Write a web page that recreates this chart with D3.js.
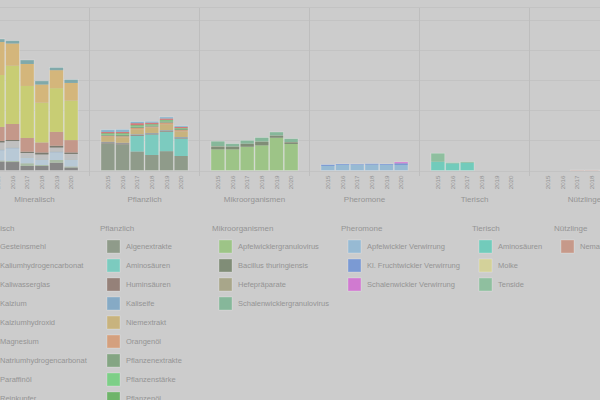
<!DOCTYPE html>
<html>
<head>
<meta charset="utf-8">
<script src="https://cdn.jsdelivr.net/npm/d3@7"></script>
<style>
  html, body { margin: 0; padding: 0; background: #cccccc; overflow: hidden; }
  svg { display: block; font-family: "Liberation Sans", Arial, sans-serif; }
</style>
</head>
<body>
<svg id="chart" width="600" height="400"></svg>
<script>
// ---------- DATA ----------
const years = ["2015", "2016", "2017", "2018", "2019", "2020"];
const groups = ["Mineralisch", "Pflanzlich", "Mikroorganismen", "Pheromone", "Tierisch", "Nützlinge"];
const yTicks = [0, 50, 100, 150, 200, 250];

const mineralKeys = ["Gesteinsmehl", "Kaliumhydrogencarbonat", "Kaliwasserglas", "Kalzium", "Kalziumhydroxid",
  "Magnesium", "Natriumhydrogencarbonat", "Paraffinöl", "Reinkupfer", "Schwefel", "Schwefelkalk", "Tonerde"];
const mineralValues = [ // one row per year
  [14.9, 1.7, 16.6, 0.8, 0.8, 0.8, 10.8, 2.5, 23.2, 86.0, 54.6, 5.0],
  [14.0, 1.7, 20.7, 0.8, 0.8, 0.8, 10.0, 1.7, 26.5, 96.5, 36.8, 4.6],
  [7.5, 4.5, 8.8, 0.8, 0.8, 0.8, 5.8, 2.2, 22.7, 86.1, 36.4, 6.6],
  [7.5, 1.7, 8.3, 0.8, 0.8, 0.8, 6.6, 3.3, 16.6, 65.9, 30.1, 6.0],
  [12.9, 4.5, 12.4, 0.8, 0.8, 0.8, 5.8, 3.0, 22.9, 72.4, 29.8, 4.5],
  [5.0, 1.7, 10.8, 0.8, 0.8, 0.8, 7.5, 2.5, 20.4, 65.4, 29.3, 5.5]
];

const plantKeys = ["Algenextrakte", "Aminosäuren", "Huminsäuren", "Kaliseife", "Niemextrakt", "Orangenöl",
  "Pflanzenextrakte", "Pflanzenstärke", "Pflanzenöl", "Quassia", "Rapsöl"];
const plantValues = [
  [45.0, 0, 1.7, 0.8, 8.3, 1.7, 1.7, 1.2, 1.3, 2.0, 3.8],
  [43.4, 0, 1.7, 0.8, 9.1, 1.7, 2.5, 1.2, 1.3, 2.2, 4.1],
  [31.5, 26.0, 1.7, 0.8, 8.3, 2.2, 2.2, 1.2, 1.2, 3.3, 2.5],
  [25.7, 34.0, 1.7, 0.8, 8.8, 1.7, 2.0, 1.0, 1.0, 2.5, 2.2],
  [32.0, 32.3, 1.7, 0.8, 9.9, 2.5, 2.2, 1.2, 1.2, 2.3, 2.5],
  [24.0, 29.0, 1.7, 0.8, 9.4, 2.0, 1.7, 0.8, 0.8, 2.0, 1.7]
];

const microKeys = ["Apfelwicklergranulovirus", "Bacillus thuringiensis", "Hefepräparate", "Schalenwicklergranulovirus"];
const microValues = [
  [35.1, 4.3, 0.8, 8.3],
  [35.1, 4.3, 0.5, 4.5],
  [39.4, 4.5, 0.5, 5.5],
  [41.7, 5.5, 0.8, 6.6],
  [54.3, 3.3, 0.5, 5.6],
  [43.9, 2.8, 0.5, 5.5]
];

const pheroKeys = ["Apfelwickler Verwirrung", "Kl. Fruchtwickler Verwirrung", "Schalenwickler Verwirrung"];
const pheroValues = [
  [7.5, 2.2, 0],
  [9.1, 1.7, 0],
  [9.6, 1.2, 0],
  [9.6, 1.7, 0],
  [9.1, 1.7, 0],
  [9.1, 2.8, 2.2]
];

const animalKeys = ["Aminosäuren", "Molke", "Tenside"];
const animalValues = [
  [14.6, 0, 14.0],
  [11.9, 0, 1.3],
  [12.9, 0, 1.7],
  [0, 0, 0],
  [0, 0, 0],
  [0, 0, 0]
];

const beneficialKeys = ["Nematoden"];
const beneficialValues = [[0], [0], [0.6], [0.6], [0.6], [0.6]];

// ---------- STYLES ----------
const mineralColors = ["#878787", "#a9bca6", "#b8c9d6", "#9fb5d0", "#c7c3b0", "#a9b7c0", "#c0c0c0",
  "#7b7b70", "#c4988a", "#c8cd74", "#d4b67b", "#80a9aa"];
const plantColors = ["#8f9b8a", "#7ccbbf", "#958179", "#86aac5", "#c8b37e", "#d4a07e", "#84a583",
  "#7dcf87", "#6fb46a", "#d27a7a", "#8ab4cc"];
const microColors = ["#9dc487", "#808d77", "#a8a68a", "#86b79a"];
const pheroColors = ["#97bad3", "#7b9ad3", "#d07ad0"];
const animalColors = ["#72cbbb", "#d3d19a", "#8fbf9f"];
const beneficialColors = ["#c6998a"];

const groupDefs = [
  { keys: mineralKeys, values: mineralValues, colors: mineralColors },
  { keys: plantKeys, values: plantValues, colors: plantColors },
  { keys: microKeys, values: microValues, colors: microColors },
  { keys: pheroKeys, values: pheroValues, colors: pheroColors },
  { keys: animalKeys, values: animalValues, colors: animalColors },
  { keys: beneficialKeys, values: beneficialValues, colors: beneficialColors }
];

// ---------- LAYOUT ----------
const svg = d3.select("#chart");
const textColor = "#949494";
const baseY = 170.5, topY = 19.5;
const groupW = 110, groupStart = -20.5, innerPad = 11.5;

svg.append("rect").attr("width", 600).attr("height", 400).attr("fill", "#cccccc");

const y = d3.scaleLinear().domain([0, 250]).range([baseY, topY]);
const gx = d3.scaleBand().domain(groups).range([groupStart, groupStart + groupW * groups.length]);

// top frame line
svg.append("line").attr("x1", 0).attr("x2", 600).attr("y1", 7.5).attr("y2", 7.5)
  .attr("stroke", "#c3c3c3").attr("stroke-width", 1);

// gridlines via axis (its value labels sit outside the visible area in the reference)
const grid = svg.append("g").attr("transform", `translate(${groupStart},0)`)
  .call(d3.axisLeft(y).tickValues(yTicks).tickSize(-(groupW * groups.length)).tickFormat(""));
grid.select(".domain").remove();
grid.selectAll("line").attr("stroke", "#c3c3c3").attr("shape-rendering", "crispEdges");

// separators
svg.append("g").selectAll("line").data(groups).join("line")
  .attr("x1", d => gx(d) + gx.bandwidth()).attr("x2", d => gx(d) + gx.bandwidth())
  .attr("y1", 7.5).attr("y2", 176)
  .attr("stroke", "#bebebe").attr("shape-rendering", "crispEdges");

groups.forEach((g, gi) => {
  const def = groupDefs[gi];
  const x0 = gx(g);
  const xb = d3.scaleBand().domain(years).range([x0 + innerPad, x0 + groupW - innerPad]).paddingInner(0.06);
  const rows = years.map((yr, i) => {
    const r = { year: yr };
    def.keys.forEach((k, j) => r[k] = def.values[i][j]);
    return r;
  });
  const color = d3.scaleOrdinal().domain(def.keys).range(def.colors);
  const series = d3.stack().keys(def.keys)(rows);
  const gg = svg.append("g");
  gg.selectAll("g.s").data(series).join("g").attr("class", "s")
    .attr("fill", d => color(d.key))
    .selectAll("rect").data(d => d).join("rect")
    .attr("x", d => xb(d.data.year))
    .attr("width", xb.bandwidth())
    .attr("y", d => y(d[1]))
    .attr("height", d => Math.max(0, y(d[0]) - y(d[1])));

  // bar outline
  gg.selectAll("rect.outline").data(rows).join("rect").attr("class", "outline")
    .attr("x", d => xb(d.year))
    .attr("width", xb.bandwidth())
    .attr("y", d => y(d3.sum(def.keys, k => d[k])))
    .attr("height", d => baseY - y(d3.sum(def.keys, k => d[k])))
    .attr("fill", "none")
    .attr("stroke", d => d3.sum(def.keys, k => d[k]) > 0 ? "rgba(255,255,255,0.3)" : "none")
    .attr("stroke-width", 0.8);

  // year axis
  const ax = gg.append("g").attr("transform", `translate(0,${baseY})`)
    .call(d3.axisBottom(xb).tickSize(0));
  ax.select(".domain").remove();
  ax.selectAll("text")
    .attr("y", 0).attr("x", -5).attr("dy", "0.35em")
    .attr("transform", "rotate(-90)")
    .style("text-anchor", "end")
    .attr("fill", textColor).attr("font-size", 6.2)
    .attr("font-family", "'Liberation Sans', Arial, sans-serif");

  // group label
  gg.append("text").attr("x", x0 + groupW / 2).attr("y", 201.5)
    .attr("text-anchor", "middle").attr("fill", textColor).attr("font-size", 8)
    .text(g);
});

// ---------- LEGEND ----------
const legendX = [-26, 100, 212, 341, 472, 554];
groups.forEach((g, gi) => {
  const def = groupDefs[gi];
  const lx = legendX[gi];
  const lg = svg.append("g");
  lg.append("text").attr("x", lx).attr("y", 231).attr("fill", textColor).attr("font-size", 8).text(g);
  const items = lg.selectAll("g.item").data(def.keys).join("g").attr("class", "item")
    .attr("transform", (d, i) => `translate(${lx},${246.5 + i * 19})`);
  items.append("rect").attr("x", 7).attr("y", -6.5).attr("width", 13).attr("height", 13)
    .attr("fill", (d, i) => def.colors[i])
    .attr("stroke", "rgba(255,255,255,0.3)").attr("stroke-width", 0.8);
  items.append("text").attr("x", 26).attr("dy", "0.35em")
    .attr("fill", textColor).attr("font-size", 7.5).text(d => d);
});
</script>
</body>
</html>
